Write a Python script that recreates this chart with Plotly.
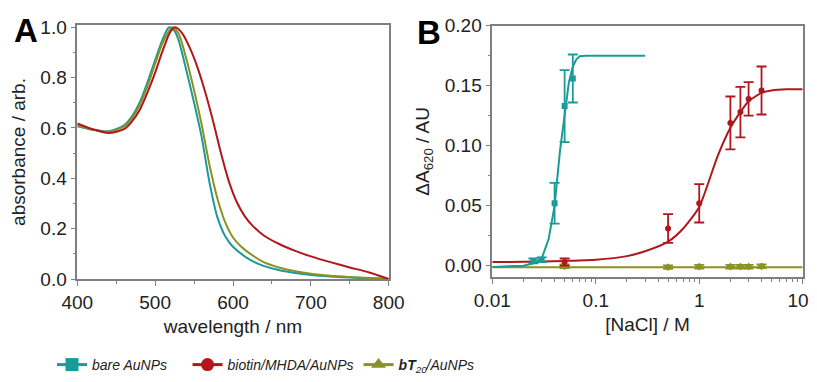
import plotly.graph_objects as go

# ---------------- Panel A: UV-vis spectra ----------------
wl_bare = [400, 420, 440, 460, 470, 480, 490, 500, 510, 518, 525, 530, 540, 550, 560, 570, 580, 590, 600, 620, 640, 660, 680, 700, 725, 750, 775, 800]
abs_bare = [0.607, 0.593, 0.587, 0.61, 0.645, 0.70, 0.78, 0.87, 0.955, 1.0, 0.985, 0.95, 0.83, 0.70, 0.56, 0.38, 0.245, 0.17, 0.128, 0.08, 0.051, 0.035, 0.024, 0.016, 0.01, 0.006, 0.003, 0.0]

wl_bt20 = [400, 420, 440, 460, 470, 480, 490, 500, 510, 522, 530, 540, 550, 560, 570, 580, 590, 600, 610, 620, 640, 660, 680, 700, 725, 750, 775, 800]
abs_bt20 = [0.61, 0.593, 0.585, 0.605, 0.637, 0.69, 0.765, 0.855, 0.94, 1.0, 0.975, 0.875, 0.75, 0.61, 0.45, 0.32, 0.225, 0.165, 0.13, 0.105, 0.066, 0.045, 0.031, 0.021, 0.013, 0.008, 0.004, 0.0]

wl_biotin = [400, 420, 440, 460, 470, 480, 490, 500, 510, 520, 526, 535, 545, 555, 565, 575, 585, 595, 605, 615, 625, 640, 660, 680, 700, 725, 750, 775, 800]
abs_biotin = [0.618, 0.595, 0.58, 0.595, 0.625, 0.67, 0.74, 0.82, 0.91, 0.985, 1.0, 0.975, 0.915, 0.835, 0.735, 0.62, 0.495, 0.385, 0.305, 0.25, 0.212, 0.172, 0.138, 0.112, 0.09, 0.067, 0.046, 0.026, 0.0]

# ---------------- Panel B: salt titration ----------------
nacl_bare = [0.025, 0.03, 0.04, 0.05, 0.06]
dA_bare = [0.004, 0.005, 0.052, 0.133, 0.156]
err_bare = [0.002, 0.002, 0.017, 0.03, 0.02]
fit_x_bare = [0.01, 0.02, 0.025, 0.03, 0.035, 0.04, 0.045, 0.05, 0.055, 0.06, 0.065, 0.07, 0.08, 0.1, 0.3]
fit_y_bare = [-0.001, 0.0, 0.002, 0.006, 0.022, 0.05, 0.095, 0.128, 0.153, 0.166, 0.172, 0.1745, 0.175, 0.175, 0.175]

nacl_biotin = [0.05, 0.5, 1.0, 2.0, 2.5, 3.0, 4.0]
dA_biotin = [0.003, 0.031, 0.052, 0.119, 0.128, 0.139, 0.146]
err_biotin = [0.003, 0.012, 0.016, 0.022, 0.021, 0.014, 0.02]
fit_x_biotin = [0.01, 0.03, 0.05, 0.1, 0.2, 0.3, 0.5, 0.7, 1.0, 1.5, 2.0, 2.5, 3.0, 4.0, 5.0, 7.0, 10.0]
fit_y_biotin = [0.003, 0.0035, 0.004, 0.005, 0.008, 0.012, 0.02, 0.031, 0.049, 0.091, 0.115, 0.128, 0.137, 0.144, 0.146, 0.147, 0.147]

nacl_bt20 = [0.05, 0.5, 1.0, 2.0, 2.5, 3.0, 4.0]
dA_bt20 = [-0.0005, -0.0012, -0.0008, -0.0008, -0.0008, -0.0008, -0.0005]
err_bt20 = [0.0015, 0.0015, 0.0015, 0.0015, 0.0015, 0.0015, 0.0015]
fit_x_bt20 = [0.01, 10.0]
fit_y_bt20 = [-0.0012, -0.0012]

log_minor_ticks = [0.02, 0.03, 0.04, 0.05, 0.06, 0.07, 0.08, 0.09,
                   0.2, 0.3, 0.4, 0.5, 0.6, 0.7, 0.8, 0.9,
                   2, 3, 4, 5, 6, 7, 8, 9]
nacl_tick_text = ["0.01", "0.1", "1", "10\u2002"]

series_names = ["<i>bare AuNPs</i>" + "\u00a0" * 4,
                "<i>biotin/MHDA/AuNPs</i>",
                "<i><b>bT</b><sub>20</sub>/AuNPs</i>"]

TEAL = "#1a9a98"
RED = "#b0171c"
OLIVE = "#8a9224"
FONT = "Liberation Sans, Arial, sans-serif"

OFF = 8  # page body offset
W, H = 817 - OFF, 382 - 2 * OFF


def px(x):
    return (x - OFF) / W


def py(y):
    return 1 - (y - OFF) / H


fig = go.Figure()

# Panel A lines
for wl, ab, c in [(wl_bare, abs_bare, TEAL), (wl_bt20, abs_bt20, OLIVE), (wl_biotin, abs_biotin, RED)]:
    fig.add_trace(go.Scatter(x=wl, y=ab, mode="lines", line=dict(color=c, width=2, shape="spline", smoothing=0.8),
                             showlegend=False, xaxis="x", yaxis="y", hoverinfo="skip"))

# Panel B fit lines
fig.add_trace(go.Scatter(x=fit_x_bt20, y=fit_y_bt20, mode="lines", line=dict(color=OLIVE, width=2),
                         showlegend=False, xaxis="x2", yaxis="y2"))
fig.add_trace(go.Scatter(x=fit_x_biotin, y=fit_y_biotin, mode="lines", line=dict(color=RED, width=2, shape="spline", smoothing=0.6),
                         showlegend=False, xaxis="x2", yaxis="y2"))
fig.add_trace(go.Scatter(x=fit_x_bare, y=fit_y_bare, mode="lines", line=dict(color=TEAL, width=2),
                         showlegend=False, xaxis="x2", yaxis="y2"))

# Panel B points
for xs, ys, es, c, sym in [(nacl_bt20, dA_bt20, err_bt20, OLIVE, "diamond"),
                           (nacl_biotin, dA_biotin, err_biotin, RED, "circle"),
                           (nacl_bare, dA_bare, err_bare, TEAL, "square")]:
    fig.add_trace(go.Scatter(x=xs, y=ys, mode="markers", marker=dict(color=c, size=6, symbol=sym),
                             error_y=dict(type="data", array=es, color=c, thickness=1.8, width=5),
                             showlegend=False, xaxis="x2", yaxis="y2"))

# Legend entries
for name, c, sym in zip(series_names, [TEAL, RED, OLIVE], ["square", "circle", "triangle-up"]):
    fig.add_trace(go.Scatter(x=[None], y=[None], mode="lines+markers", name=name,
                             line=dict(color=c, width=3), marker=dict(color=c, size=13, symbol=sym),
                             xaxis="x", yaxis="y"))

axis_common = dict(showline=True, linecolor="#7f7f7f", linewidth=1.5, mirror=True, ticks="outside",
                   ticklen=5, tickwidth=1.2, tickcolor="#7f7f7f", showgrid=False, zeroline=False,
                   automargin=False, ticklabeloverflow="allow",
                   tickfont=dict(family=FONT, size=19, color="#222"),
                   title_font=dict(family=FONT, size=19, color="#222"))

fig.update_layout(
    width=W, height=H,
    margin=dict(l=0, r=0, t=0, b=0, autoexpand=False),
    paper_bgcolor="white", plot_bgcolor="white",
    xaxis=dict(domain=[px(77.3), px(388.7)], anchor="y", range=[400, 800], tickvals=[400, 500, 600, 700, 800],
               minor=dict(ticks="outside", ticklen=3, tickcolor="#7f7f7f", dtick=50, showgrid=False),
               title=dict(text="wavelength / nm", standoff=8), **axis_common),
    yaxis=dict(domain=[py(279), py(25)], anchor="x", range=[0, 1.009], tickvals=[0, 0.2, 0.4, 0.6, 0.8, 1.0],
               ticktext=["0.0", "0.2", "0.4", "0.6", "0.8", "1.0"],
               minor=dict(ticks="outside", ticklen=3, tickcolor="#7f7f7f", dtick=0.1, showgrid=False),
               title=dict(text="absorbance / arb.", standoff=10), **axis_common),
    xaxis2=dict(domain=[px(492.3), px(802.7)], anchor="y2", type="log", range=[-2, 1],
                tickvals=[0.01, 0.1, 1, 10], ticktext=nacl_tick_text,
                minor=dict(ticks="outside", ticklen=3, tickcolor="#7f7f7f", tickvals=log_minor_ticks, showgrid=False),
                title=dict(text="[NaCl] / M", standoff=8), **axis_common),
    yaxis2=dict(domain=[py(277), py(25.7)], anchor="x2", range=[-0.0094, 0.2], tickvals=[0, 0.05, 0.10, 0.15, 0.20],
                ticktext=["0.00", "0.05", "0.10", "0.15", "0.20"],
                minor=dict(ticks="outside", ticklen=3, tickcolor="#7f7f7f", dtick=0.025, showgrid=False),
                title=dict(text="\u0394A<sub>620</sub> / AU", standoff=10), **axis_common),
    legend=dict(orientation="h", x=px(52), xanchor="left", y=py(365), yanchor="middle",
                font=dict(family=FONT, size=14, color="#222"), bgcolor="rgba(0,0,0,0)",
                itemwidth=30, tracegroupgap=0),
    annotations=[
        dict(text="<b>A</b>", x=px(26), y=py(31), xref="paper", yref="paper", showarrow=False,
             font=dict(family=FONT, size=33, color="black"), xanchor="center", yanchor="middle"),
        dict(text="<b>B</b>", x=px(429), y=py(33), xref="paper", yref="paper", showarrow=False,
             font=dict(family=FONT, size=33, color="black"), xanchor="center", yanchor="middle"),
    ],
)

fig.write_html("out.html")
